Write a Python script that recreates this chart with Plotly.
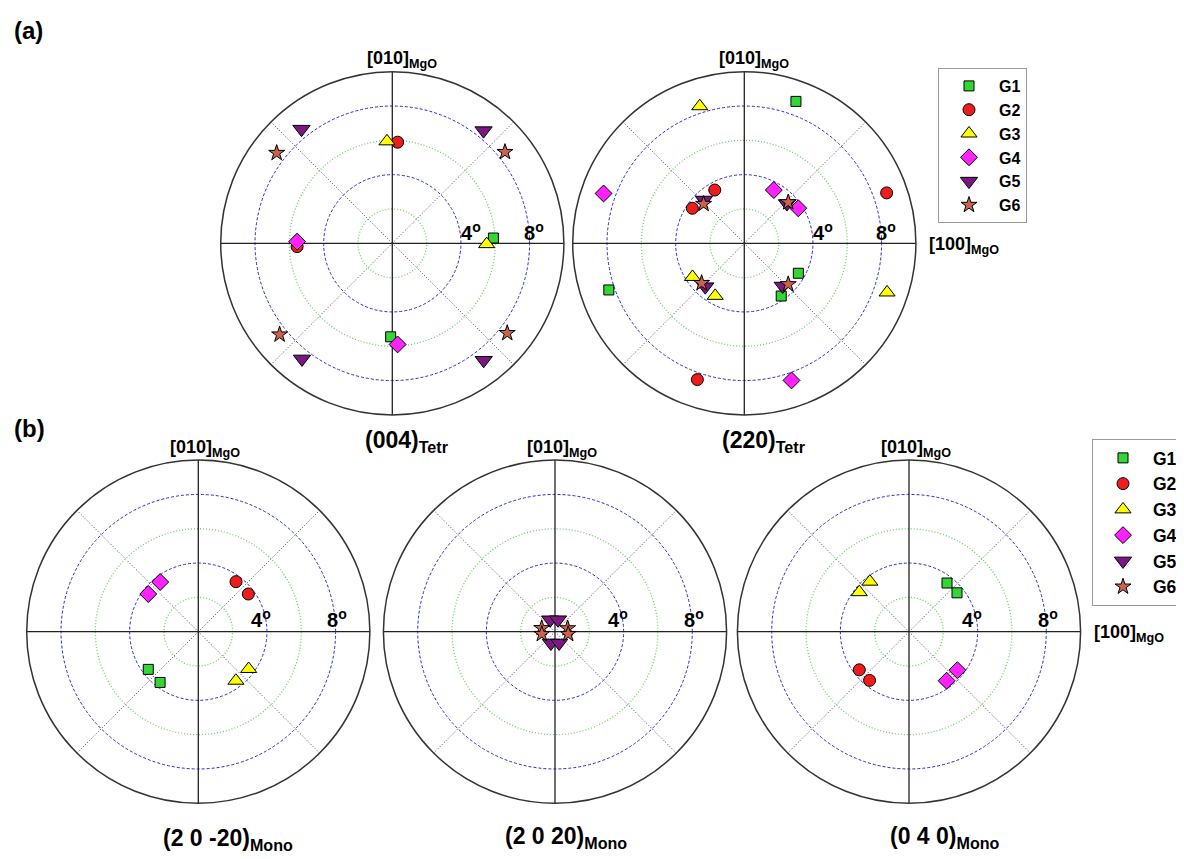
import numpy as np
import plotly.graph_objects as go

# page is drawn with an 8px body margin, so the figure is laid out in page pixels minus 8
PAGE_OFF = 8
FW, FH = 1176, 851
FONT = "Arial, Liberation Sans, sans-serif"

# ---------------- data ----------------
groups = ["G1", "G2", "G3", "G4", "G5", "G6"]

# (004)Tetr  -- polar angle (deg, ccw from [100]) and tilt (deg)
tetr004_r = [[5.9, 5.45], [5.9, 5.55], [5.95, 5.5], [5.55, 5.9],
             [8.5, 8.45, 8.55, 8.65], [8.55, 8.45, 8.45, 8.5]]
tetr004_theta = [[3, 269], [87, 182], [93, 359.5], [179, 273],
                 [128.5, 51, 232, 308], [142, 39, 219, 322]]

# (220)Tetr
tetr220_r = [[8.8, 8.35, 3.6, 3.75], [3.55, 3.65, 8.4, 8.8], [8.4, 3.6, 3.5, 8.8],
             [8.7, 3.55, 3.75, 8.45], [3.45, 3.4, 3.4, 3.35], [3.3, 3.5, 3.4, 3.5]]
tetr220_theta = [[70, 199, 331, 305], [119, 146, 251, 19.5], [108, 213, 241, 341],
                 [160.5, 61, 33, 289], [133, 43, 228, 312], [136, 43, 223, 317]]

# (2 0 -20)Mono
mono20m20_r = [[3.65, 3.7], [3.65, 3.65], [3.65, 3.6], [3.65, 3.65], [], []]
mono20m20_theta = [[217, 233], [53, 37], [323.5, 307.5], [127.5, 143], [], []]

# (2 0 20)Mono
mono2020_r = [[], [], [], [], [0.75, 0.72, 0.7, 0.7], [0.8, 0.78, 0.76, 0.78]]
mono2020_theta = [[], [], [], [], [112, 76, 250, 290], [165, 190, 15, 350]]

# (0 4 0)Mono
mono040_r = [[3.6, 3.6], [3.65, 3.65], [3.7, 3.7], [3.6, 3.6], [], []]
mono040_theta = [[52, 39], [217.5, 231], [128, 141.5], [321.5, 307.5], [], []]

plot_titles = ["(004)<sub>Tetr</sub>", "(220)<sub>Tetr</sub>",
               "(2 0 -20)<sub>Mono</sub>", "(2 0 20)<sub>Mono</sub>", "(0 4 0)<sub>Mono</sub>"]
ring_green = [2, 6]
ring_blue = [4, 8]
r_max = 10

# ---------------- style ----------------
colors = ["#33d633", "#ee1c1c", "#ffff00", "#ff22ff", "#7b1682", "#cd6150"]
symbols = ["square", "circle", "triangle-up", "diamond", "triangle-down", "star"]
sizes = [10, 12, 14, 13, 15, 12]

datasets = [(tetr004_r, tetr004_theta), (tetr220_r, tetr220_theta),
            (mono20m20_r, mono20m20_theta), (mono2020_r, mono2020_theta),
            (mono040_r, mono040_theta)]

R = 171.6
centers = [(392.3, 243.3), (744.3, 243.3), (198.3, 631.7), (555.0, 631.7), (909.0, 631.7)]


def fx(px):
    return (px - PAGE_OFF) / FW


def fy(py):
    return 1 - (py - PAGE_OFF) / FH


fig = go.Figure()
ring_theta = np.linspace(0, 360, 241)

legend_done = {"legend": set(), "legend2": set()}

for i, (rs, ths) in enumerate(datasets):
    sp = "polar" if i == 0 else f"polar{i+1}"
    for rg in ring_green:
        fig.add_trace(go.Scatterpolar(r=[rg] * len(ring_theta), theta=ring_theta, mode="lines",
                                      line=dict(color="#66d066", width=1.3, dash="1px,2px"),
                                      hoverinfo="skip", showlegend=False, subplot=sp))
    for a in (0, 90):
        fig.add_trace(go.Scatterpolar(r=[r_max, r_max], theta=[a, a + 180], mode="lines",
                                      line=dict(color="#222222", width=1.3),
                                      hoverinfo="skip", showlegend=False, subplot=sp))
    leg = "legend" if i < 2 else "legend2"
    for g in range(6):
        if len(rs[g]) == 0:
            continue
        show = groups[g] not in legend_done[leg]
        legend_done[leg].add(groups[g])
        fig.add_trace(go.Scatterpolar(
            r=rs[g], theta=ths[g], mode="markers", name=groups[g],
            marker=dict(symbol=symbols[g], size=sizes[g], color=colors[g],
                        line=dict(color="black", width=1)),
            showlegend=show, legend=leg, legendrank=g + 1, subplot=sp))

layout_polars = {}
for i, (cx, cy) in enumerate(centers):
    key = "polar" if i == 0 else f"polar{i+1}"
    layout_polars[key] = dict(
        domain=dict(x=[fx(cx - R), fx(cx + R)], y=[fy(cy + R), fy(cy - R)]),
        bgcolor="white",
        radialaxis=dict(range=[0, r_max], tickvals=ring_blue, showticklabels=False, ticks="",
                        showline=False, gridcolor="#2a2ad0", griddash="3px,2px", gridwidth=1.2),
        angularaxis=dict(rotation=0, direction="counterclockwise", tickvals=[45, 135, 225, 315],
                         showticklabels=False, ticks="", gridcolor="#444444", griddash="1px,2px",
                         gridwidth=1.1, showline=True, linecolor="#333333", linewidth=1.5),
    )

ann = []


def add_text(text, px, py, size, xanchor="left", yanchor="middle"):
    ann.append(dict(text=text, x=fx(px), y=fy(py), xref="paper", yref="paper",
                    xanchor=xanchor, yanchor=yanchor, showarrow=False,
                    font=dict(family=FONT, size=size, color="black", weight="bold")))


add_text("(a)", 12, 31, 24)
add_text("(b)", 12, 428, 24)

title_pos = [(363, 441), (720, 441), (161, 839), (503, 837), (888, 837)]
for t, (px, py) in zip(plot_titles, title_pos):
    add_text(t, px, py, 23)

for i, (cx, cy) in enumerate(centers):
    top = i < 2
    add_text("[010]<sub>MgO</sub>", cx - (27 if top else 30), cy - R - 12, 18)
    off4, off8, dy = (67, 129.5, 11.6) if top else (51, 126.5, 13.4)
    add_text("4<sup>o</sup>", cx + off4, cy - dy, 20)
    add_text("8<sup>o</sup>", cx + off8, cy - dy, 20)

add_text("[100]<sub>MgO</sub>", 926.7, 246, 18)
add_text("[100]<sub>MgO</sub>", 1091.7, 633, 18)

fig.update_layout(
    width=FW, height=FH, margin=dict(l=0, r=0, t=0, b=0),
    paper_bgcolor="white", plot_bgcolor="white",
    font=dict(family=FONT, color="black"),
    annotations=ann,
    legend=dict(x=fx(938), y=fy(68), xanchor="left", yanchor="top", bgcolor="white",
                bordercolor="#999999", borderwidth=1, itemwidth=50, tracegroupgap=0,
                font=dict(family=FONT, size=16, color="black", weight="bold")),
    legend2=dict(x=fx(1092), y=fy(439), xanchor="left", yanchor="top", bgcolor="white",
                 bordercolor="#999999", borderwidth=1, itemwidth=50, tracegroupgap=0,
                 font=dict(family=FONT, size=17.5, color="black", weight="bold")),
    **layout_polars,
)

fig.write_html("out.html")
